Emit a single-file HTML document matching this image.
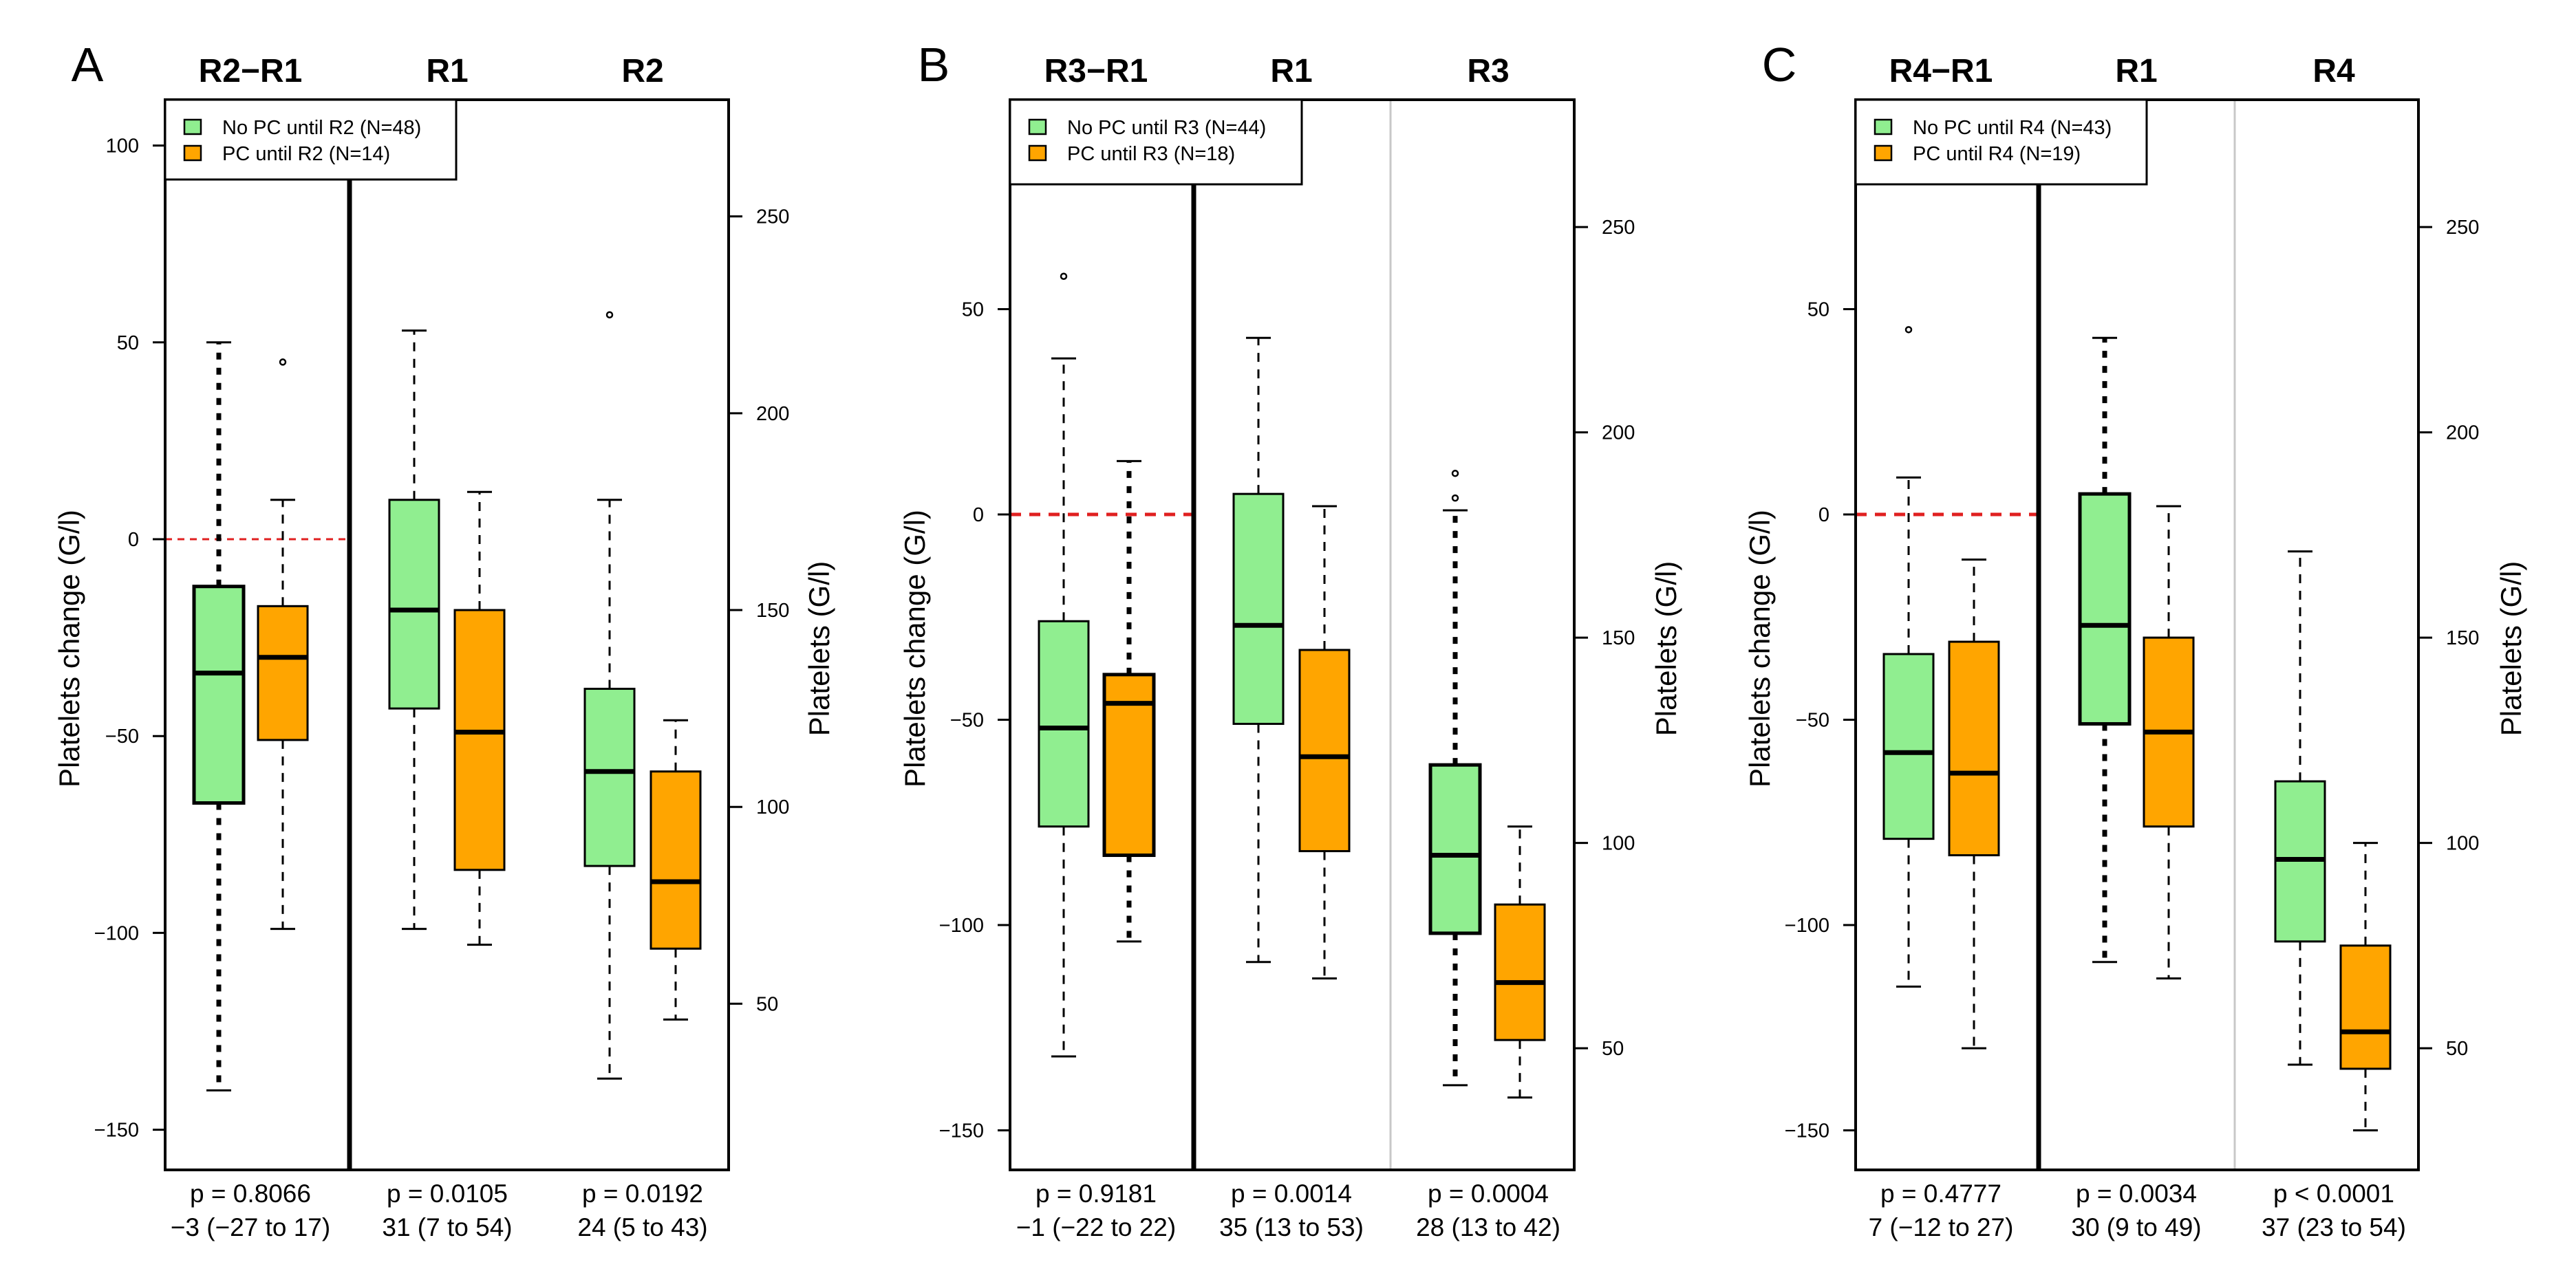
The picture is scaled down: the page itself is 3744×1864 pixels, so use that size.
<!DOCTYPE html>
<html><head><meta charset="utf-8">
<style>
html,body{margin:0;padding:0;background:#fff;}
svg{display:block;font-family:"Liberation Sans",Arial,sans-serif;}
</style></head>
<body>
<svg id="fig" width="3744" height="1864" viewBox="0 0 3744 1864" xmlns="http://www.w3.org/2000/svg"></svg>
<script>
// ---- DATA (left axis = platelets change, G/l) ----
const panelLetters = ["A","B","C"];
const groupTitles = [["R2\u2212R1","R1","R2"],["R3\u2212R1","R1","R3"],["R4\u2212R1","R1","R4"]];
const legendNo = ["No PC until R2 (N=48)","No PC until R3 (N=44)","No PC until R4 (N=43)"];
const legendPc = ["PC until R2 (N=14)","PC until R3 (N=18)","PC until R4 (N=19)"];
const pLines = [["p = 0.8066","p = 0.0105","p = 0.0192"],["p = 0.9181","p = 0.0014","p = 0.0004"],["p = 0.4777","p = 0.0034","p < 0.0001"]];
const ciLines = [["\u22123 (\u221227 to 17)","31 (7 to 54)","24 (5 to 43)"],["\u22121 (\u221222 to 22)","35 (13 to 53)","28 (13 to 42)"],["7 (\u221212 to 27)","30 (9 to 49)","37 (23 to 54)"]];
const leftTicksA = [-150,-100,-50,0,50,100];
const leftTicksBC = [-150,-100,-50,0,50];
const rightTicks = [50,100,150,200,250];
const rightOffsets = [168,180,180]; // platelets = change + offset
// each box: [lowWhisker, Q1, median, Q3, highWhisker]
const boxesA = [[-140,-67,-34,-12,50],[-99,-51,-30,-17,10],[-99,-43,-18,10,53],[-103,-84,-49,-18,12],[-137,-83,-59,-38,10],[-122,-104,-87,-59,-46]];
const boxesB = [[-132,-76,-52,-26,38],[-104,-83,-46,-39,13],[-109,-51,-27,5,43],[-113,-82,-59,-33,2],[-139,-102,-83,-61,1],[-142,-128,-114,-95,-76]];
const boxesC = [[-115,-79,-58,-34,9],[-130,-83,-63,-31,-11],[-109,-51,-27,5,43],[-113,-76,-53,-30,2],[-134,-104,-84,-65,-9],[-150,-135,-126,-105,-80]];
const outliersA = [[45],[45],[],[],[57],[]];
outliersA[0] = [];
outliersA[1] = [45];
const outliersB = [[58],[],[],[],[10,4],[]];
const outliersC = [[45],[],[],[],[],[]];
const boldWhiskers = [[true,false,false,false,false,false],[false,true,false,false,true,false],[false,false,true,false,false,false]];

// ---- LAYOUT ----
const panels = [
 {L:240,R:1059,T:145,B:1701,sep:508,gray:null,zeroY:784,ppu:5.724,leg:[240,663,261],
  centers:[318,411,602,697,886,982],gc:[364,650,934],letterX:127,ytX:101,rtX:1191,
  boxes:boxesA,out:outliersA,ticks:leftTicksA,dashW:3},
 {L:1468,R:2288,T:145,B:1701,sep:1735,gray:2021,zeroY:748,ppu:5.97,leg:[1468,1892,268],
  centers:[1546,1641,1829,1925,2115,2209],gc:[1593,1877,2163],letterX:1357,ytX:1330,rtX:2422,
  boxes:boxesB,out:outliersB,ticks:leftTicksBC,dashW:5},
 {L:2697,R:3515,T:145,B:1701,sep:2963,gray:3248,zeroY:748,ppu:5.97,leg:[2697,3120,268],
  centers:[2774,2869,3059,3152,3343,3438],gc:[2821,3105,3392],letterX:2586,ytX:2558,rtX:3650,
  boxes:boxesC,out:outliersC,ticks:leftTicksBC,dashW:5}
];
const NS="http://www.w3.org/2000/svg";
const svg=document.getElementById('fig');
function mk(tag,attrs,parent,text){const e=document.createElementNS(NS,tag);for(const k in attrs)e.setAttribute(k,attrs[k]);if(text!==undefined)e.textContent=text;(parent||svg).appendChild(e);return e;}

panels.forEach((p,pi)=>{
  const g=mk('g',{});
  
  
  const y=v=>p.zeroY-v*p.ppu;
  // letter
  const lt=mk('text',{x:p.letterX,y:118,'font-size':70,'text-anchor':'middle'},g,panelLetters[pi]);
  
  
  // group titles
  groupTitles[pi].forEach((t,i)=>{
    const e=mk('text',{x:p.gc[i],y:119,'font-size':48,'font-weight':'bold','text-anchor':'middle'},g,t);
    
    
  });
  // gray divider
  if(p.gray){const e=mk('line',{x1:p.gray,x2:p.gray,y1:p.T,y2:p.B,stroke:'#c8c8c8','stroke-width':3},g);
    
    }
  // zero line
  const zl=mk('line',{x1:p.L,x2:p.sep,y1:y(0),y2:y(0),stroke:'#e02020','stroke-width':p.dashW,'stroke-dasharray':pi===0?'10 8':'16 12'},g);
  
  
  // boxes
  p.boxes.forEach((b,i)=>{
    const cx=p.centers[i], hw=36, col=i%2===0?'#90ee90':'#ffa500';
    const bg=mk('g',{},g);
    
    
    const bold=boldWhiskers[pi][i];
    const wa={stroke:'#000','stroke-width':bold?7:3,'stroke-dasharray':bold?'10 12':'13 11'};
    mk('line',Object.assign({x1:cx,x2:cx,y1:y(b[3]),y2:y(b[4])},wa),bg);
    mk('line',Object.assign({x1:cx,x2:cx,y1:y(b[1]),y2:y(b[0])},wa),bg);
    mk('line',{x1:cx-18,x2:cx+18,y1:y(b[4]),y2:y(b[4]),stroke:'#000','stroke-width':3},bg);
    mk('line',{x1:cx-18,x2:cx+18,y1:y(b[0]),y2:y(b[0]),stroke:'#000','stroke-width':3},bg);
    mk('rect',{x:cx-hw,y:y(b[3]),width:hw*2,height:y(b[1])-y(b[3]),fill:col,stroke:'#000','stroke-width':bold?5:3},bg);
    mk('line',{x1:cx-hw,x2:cx+hw,y1:y(b[2]),y2:y(b[2]),stroke:'#000','stroke-width':7},bg);
    p.out[i].forEach(o=>{
      const c=mk('circle',{cx:cx,cy:y(o),r:4,fill:'none',stroke:'#000','stroke-width':2.5},bg);
      
      
    });
  });
  // frame
  const fr=mk('rect',{x:p.L,y:p.T,width:p.R-p.L,height:p.B-p.T,fill:'none',stroke:'#000','stroke-width':4},g);
  
  
  const sp=mk('line',{x1:p.sep,x2:p.sep,y1:p.leg[2],y2:p.B,stroke:'#000','stroke-width':7},g);
  
  
  // left ticks
  p.ticks.forEach(t=>{
    const ty=y(t);
    mk('line',{x1:p.L-18,x2:p.L,y1:ty,y2:ty,stroke:'#000','stroke-width':3},g);
    const e=mk('text',{x:p.L-38,y:ty+10,'font-size':29,'text-anchor':'end'},g,t<0?'\u2212'+(-t):String(t));
    
    
  });
  // right ticks
  rightTicks.forEach(t=>{
    const ty=y(t-rightOffsets[pi]);
    mk('line',{x1:p.R,x2:p.R+20,y1:ty,y2:ty,stroke:'#000','stroke-width':3},g);
    const e=mk('text',{x:p.R+40,y:ty+10,'font-size':29},g,String(t));
    
    
  });
  // axis titles
  const midY=(p.T+p.B)/2+20;
  const yt=mk('text',{x:0,y:0,'font-size':42,'text-anchor':'middle',transform:`translate(${p.ytX+14},${midY}) rotate(-90)`},g,'Platelets change (G/l)');
  
  
  const rt=mk('text',{x:0,y:0,'font-size':42,'text-anchor':'middle',transform:`translate(${p.rtX+14},${midY}) rotate(-90)`},g,'Platelets (G/l)');
  
  
  // p-values
  p.gc.forEach((c,i)=>{
    const e1=mk('text',{x:c,y:1748,'font-size':37,'text-anchor':'middle'},g,pLines[pi][i]);
    
    
    const e2=mk('text',{x:c,y:1797,'font-size':37,'text-anchor':'middle'},g,ciLines[pi][i]);
    
    
  });
  // legend
  const lg=mk('g',{},g);
  
  
  mk('rect',{x:p.L,y:p.T,width:p.leg[1]-p.L,height:p.leg[2]-p.T,fill:'#fff',stroke:'#000','stroke-width':3},lg);
  mk('rect',{x:p.L+28,y:p.T+29,width:24,height:21,fill:'#90ee90',stroke:'#000','stroke-width':2.5},lg);
  mk('rect',{x:p.L+28,y:p.T+67,width:24,height:21,fill:'#ffa500',stroke:'#000','stroke-width':2.5},lg);
  const l1=mk('text',{x:p.L+83,y:p.T+50,'font-size':29},lg,legendNo[pi]);
  
  
  const l2=mk('text',{x:p.L+83,y:p.T+88,'font-size':29},lg,legendPc[pi]);
  
  
});
</script>
</body></html>
